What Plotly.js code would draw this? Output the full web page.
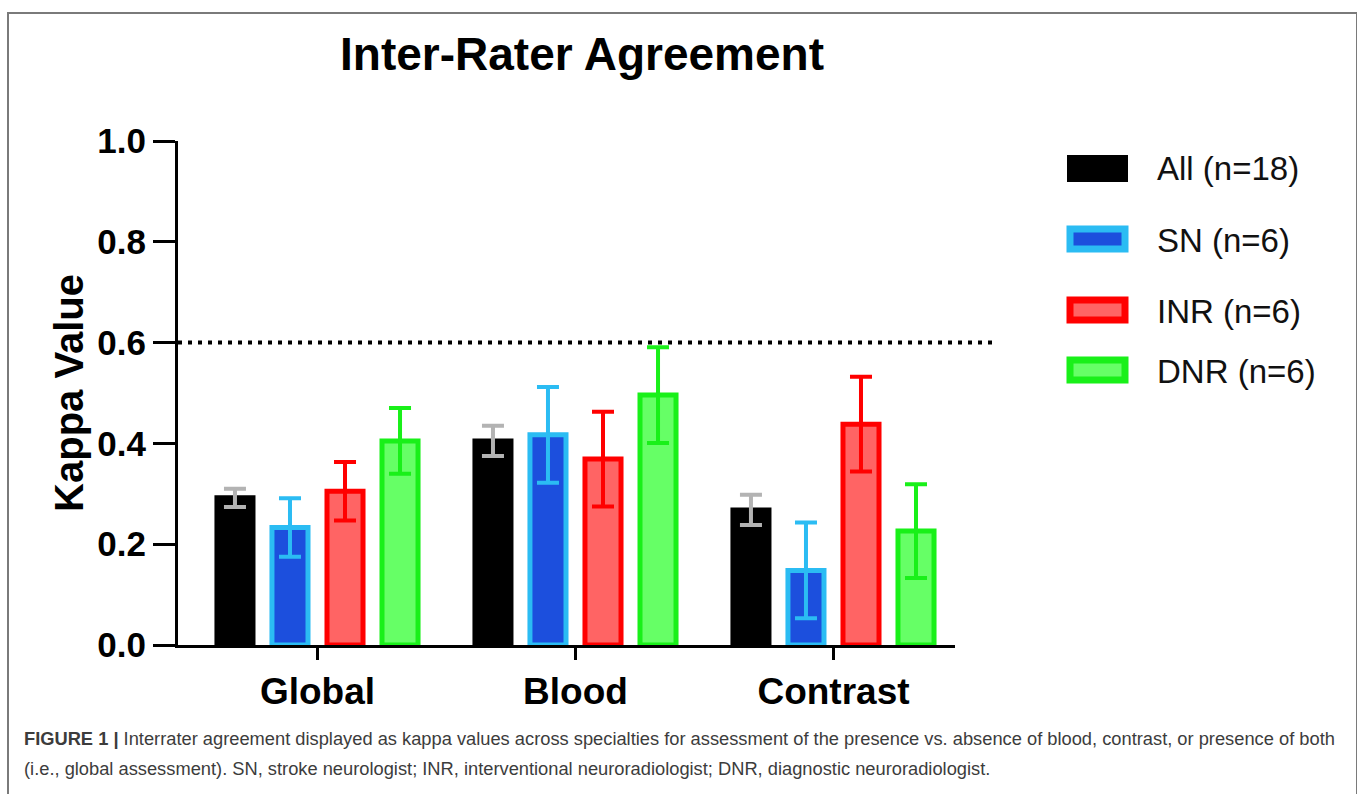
<!DOCTYPE html>
<html>
<head>
<meta charset="utf-8">
<script src="https://cdn.plot.ly/plotly-3.0.1.min.js"></script>
<style>
  html, body { margin:0; padding:0; background:#fff; }
  #frame { position:absolute; left:7px; top:12px; width:1347px; height:800px;
           border:2px solid #7a7a7a; border-bottom:none; }
  #chart { position:absolute; left:0; top:0; width:1357px; height:794px; }
</style>
</head>
<body>
<div id="frame"></div>
<div id="chart"></div>
<script>
// ---- data ----
const categories = ["Global", "Blood", "Contrast"];
const seriesNames = ["All (n=18)", "SN (n=6)", "INR (n=6)", "DNR (n=6)"];
const allValues = [0.292, 0.405, 0.268];
const allErrors = [0.018, 0.030, 0.030];
const snValues  = [0.233, 0.417, 0.148];
const snErrors  = [0.058, 0.095, 0.095];
const inrValues = [0.305, 0.369, 0.438];
const inrErrors = [0.058, 0.094, 0.094];
const dnrValues = [0.405, 0.496, 0.226];
const dnrErrors = [0.065, 0.095, 0.093];
const yTickVals = [0, 0.2, 0.4, 0.6, 0.8, 1.0];
const yTickText = ["0.0", "0.2", "0.4", "0.6", "0.8", "1.0"];
const thresholdValue = 0.6;

// ---- styles ----
const styles = [
  {fill:"#000000", border:"#000000", err:"#b3b3b3"},
  {fill:"#1c4fdd", border:"#2bbcf3", err:"#2bbcf3"},
  {fill:"#ff6464", border:"#ff0000", err:"#ff0000"},
  {fill:"#66ff66", border:"#19f019", err:"#19f019"}
];
const valueSets = [allValues, snValues, inrValues, dnrValues];
const errorSets = [allErrors, snErrors, inrErrors, dnrErrors];
const xIdx = categories.map((c, i) => i);

const traces = valueSets.map((vals, k) => ({
  type: "bar",
  name: seriesNames[k],
  x: xIdx,
  y: vals,
  marker: {color: styles[k].fill, line: {color: styles[k].border, width: 5}},
  error_y: {type: "data", array: errorSets[k], visible: true,
            color: styles[k].err, thickness: 4, width: 11},
  showlegend: false,
  hoverinfo: "y"
}));

// plot-area geometry (pixels)
const L = 178, R = 955, T = 141, B = 645;
const W = 1357, H = 794;
const px = x => (x - L) / (R - L);
const py = y => (B - y) / (B - T);

const FONT = "Liberation Sans, Arial, Helvetica, sans-serif";

// custom legend
const legendRows = [
  {y0:155, y1:182, ty:168},
  {y0:226, y1:252, ty:240},
  {y0:297, y1:323, ty:311},
  {y0:357, y1:383, ty:371}
];
const shapes = [
  {type:"line", xref:"paper", yref:"y", x0:0, x1:px(992), y0:thresholdValue, y1:thresholdValue,
   line:{color:"#000", width:4, dash:"4px,6px"}}
];
const annotations = [];
legendRows.forEach((r, k) => {
  const inset = k === 0 ? 0 : 3;
  shapes.push({type:"rect", xref:"paper", yref:"paper",
    x0:px(1067+inset), x1:px(1128-inset), y0:py(r.y1-inset), y1:py(r.y0+inset),
    fillcolor: styles[k].fill,
    line:{color: styles[k].border, width: k === 0 ? 0 : 7}});
  annotations.push({xref:"paper", yref:"paper", x:px(1155), y:py(r.ty),
    xanchor:"left", yanchor:"middle", showarrow:false, text:seriesNames[k],
    font:{family:FONT, size:33, color:"#111"}});
});

// caption
annotations.push({xref:"paper", yref:"paper", x:px(22), y:py(738), xanchor:"left", yanchor:"middle",
  showarrow:false, align:"left",
  text:"<b>FIGURE 1 |</b> Interrater agreement displayed as kappa values across specialties for assessment of the presence vs. absence of blood, contrast, or presence of both",
  font:{family:FONT, size:18.3, color:"#3c3c3c"}});
annotations.push({xref:"paper", yref:"paper", x:px(22), y:py(768), xanchor:"left", yanchor:"middle",
  showarrow:false, align:"left",
  text:"(i.e., global assessment). SN, stroke neurologist; INR, interventional neuroradiologist; DNR, diagnostic neuroradiologist.",
  font:{family:FONT, size:18.3, color:"#3c3c3c"}});

const layout = {
  width: W, height: H,
  margin: {l: L, r: W - R, t: T, b: H - B, pad: 0},
  paper_bgcolor: "rgba(0,0,0,0)",
  plot_bgcolor: "rgba(0,0,0,0)",
  barmode: "group",
  bargap: 0.147,
  bargroupgap: 0.345,
  title: {text: "Inter-Rater Agreement", x: 582 / W, xanchor: "center",
          y: 1 - 54 / H, yanchor: "middle", yref: "container",
          font: {family: FONT, size: 46, weight: "bold", color: "#000"}},
  xaxis: {
    range: [-0.5407, 2.471],
    tickmode: "array", tickvals: xIdx, ticktext: categories,
    showline: true, linecolor: "#000", linewidth: 3,
    ticks: "outside", ticklen: 12, tickwidth: 3, tickcolor: "#000",
    showgrid: false, zeroline: false, fixedrange: true,
    tickfont: {family: FONT, size: 37, weight: "bold", color: "#000"}
  },
  yaxis: {
    range: [0, 1],
    tickmode: "array", tickvals: yTickVals, ticktext: yTickText,
    showline: true, linecolor: "#000", linewidth: 3,
    ticks: "outside", ticklen: 22, tickwidth: 3, tickcolor: "#000",
    showgrid: false, zeroline: false, fixedrange: true,
    tickfont: {family: FONT, size: 35, weight: "bold", color: "#000"},
    title: {text: "Kappa Value", standoff: 2,
            font: {family: FONT, size: 40, weight: "bold", color: "#000"}}
  },
  shapes: shapes,
  annotations: annotations
};

Plotly.newPlot("chart", traces, layout, {displayModeBar: false, staticPlot: true});
</script>
</body>
</html>
